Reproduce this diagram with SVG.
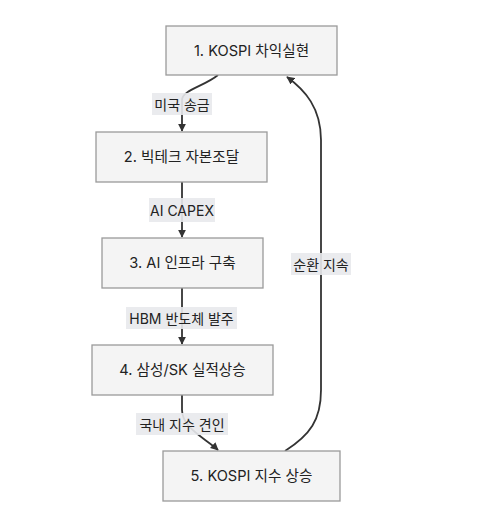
<svg xmlns="http://www.w3.org/2000/svg" width="480" height="523" viewBox="0 0 480 523">
<defs>
<style>
.node rect{fill:#f4f4f4;stroke:#9a9a9a;stroke-width:1.3}
.node text,.lbl text{font-family:"Inter","Noto Sans","Noto Sans CJK KR",sans-serif;font-size:14px;fill:#222;text-anchor:middle;dominant-baseline:central}
.node text{font-size:14.6px}
.lbl rect{fill:#e8e9ec;opacity:0.9}
.edge{fill:none;stroke:#333;stroke-width:1.8}
</style>
<marker id="ah" viewBox="0 0 10 10" refX="9" refY="5" markerWidth="8" markerHeight="8" markerUnits="userSpaceOnUse" orient="auto">
<path d="M0,0 L10,5 L0,10 z" fill="#333"/>
</marker>
</defs>
<rect width="480" height="523" fill="#fff"/>
<g id="connectors">
<path class="edge" d="M218,75 C205,86 182,90 182,100 L182,131" marker-end="url(#ah)"/>
<path class="edge" d="M182,182 L182,237" marker-end="url(#ah)"/>
<path class="edge" d="M182,288 L182,344" marker-end="url(#ah)"/>
<path class="edge" d="M182,395 L182,410 C182,428 205,438 218,450" marker-end="url(#ah)"/>
<path class="edge" d="M285,451 C310,435 321,420 321,390 L321,140 C321,108 305,90 287,77" marker-end="url(#ah)"/>
</g>
<g id="edge-labels">
<g class="lbl"><rect x="152" y="93" width="60" height="22"/><text x="182" y="104">미국 송금</text></g>
<g class="lbl"><rect x="149" y="198" width="66" height="24"/><text x="182" y="210">AI CAPEX</text></g>
<g class="lbl"><rect x="126" y="307" width="111" height="22"/><text x="181.5" y="318">HBM 반도체 발주</text></g>
<g class="lbl"><rect x="136" y="413" width="92" height="22"/><text x="182" y="424">국내 지수 견인</text></g>
<g class="lbl"><rect x="291" y="253" width="60" height="22"/><text x="321" y="264">순환 지속</text></g>
</g>
<g id="n1" class="node"><rect x="166" y="26" width="171" height="49"/><text x="251.5" y="50.5">1. KOSPI 차익실현</text></g>
<g id="n2" class="node"><rect x="96" y="132" width="171" height="50"/><text x="181.5" y="157">2. 빅테크 자본조달</text></g>
<g id="n3" class="node"><rect x="102" y="238" width="161" height="50"/><text x="182.5" y="263">3. AI 인프라 구축</text></g>
<g id="n4" class="node"><rect x="92" y="345" width="181" height="50"/><text x="182.5" y="370">4. 삼성/SK 실적상승</text></g>
<g id="n5" class="node"><rect x="163" y="451" width="177" height="50"/><text x="251.5" y="476">5. KOSPI 지수 상승</text></g>
</svg>
